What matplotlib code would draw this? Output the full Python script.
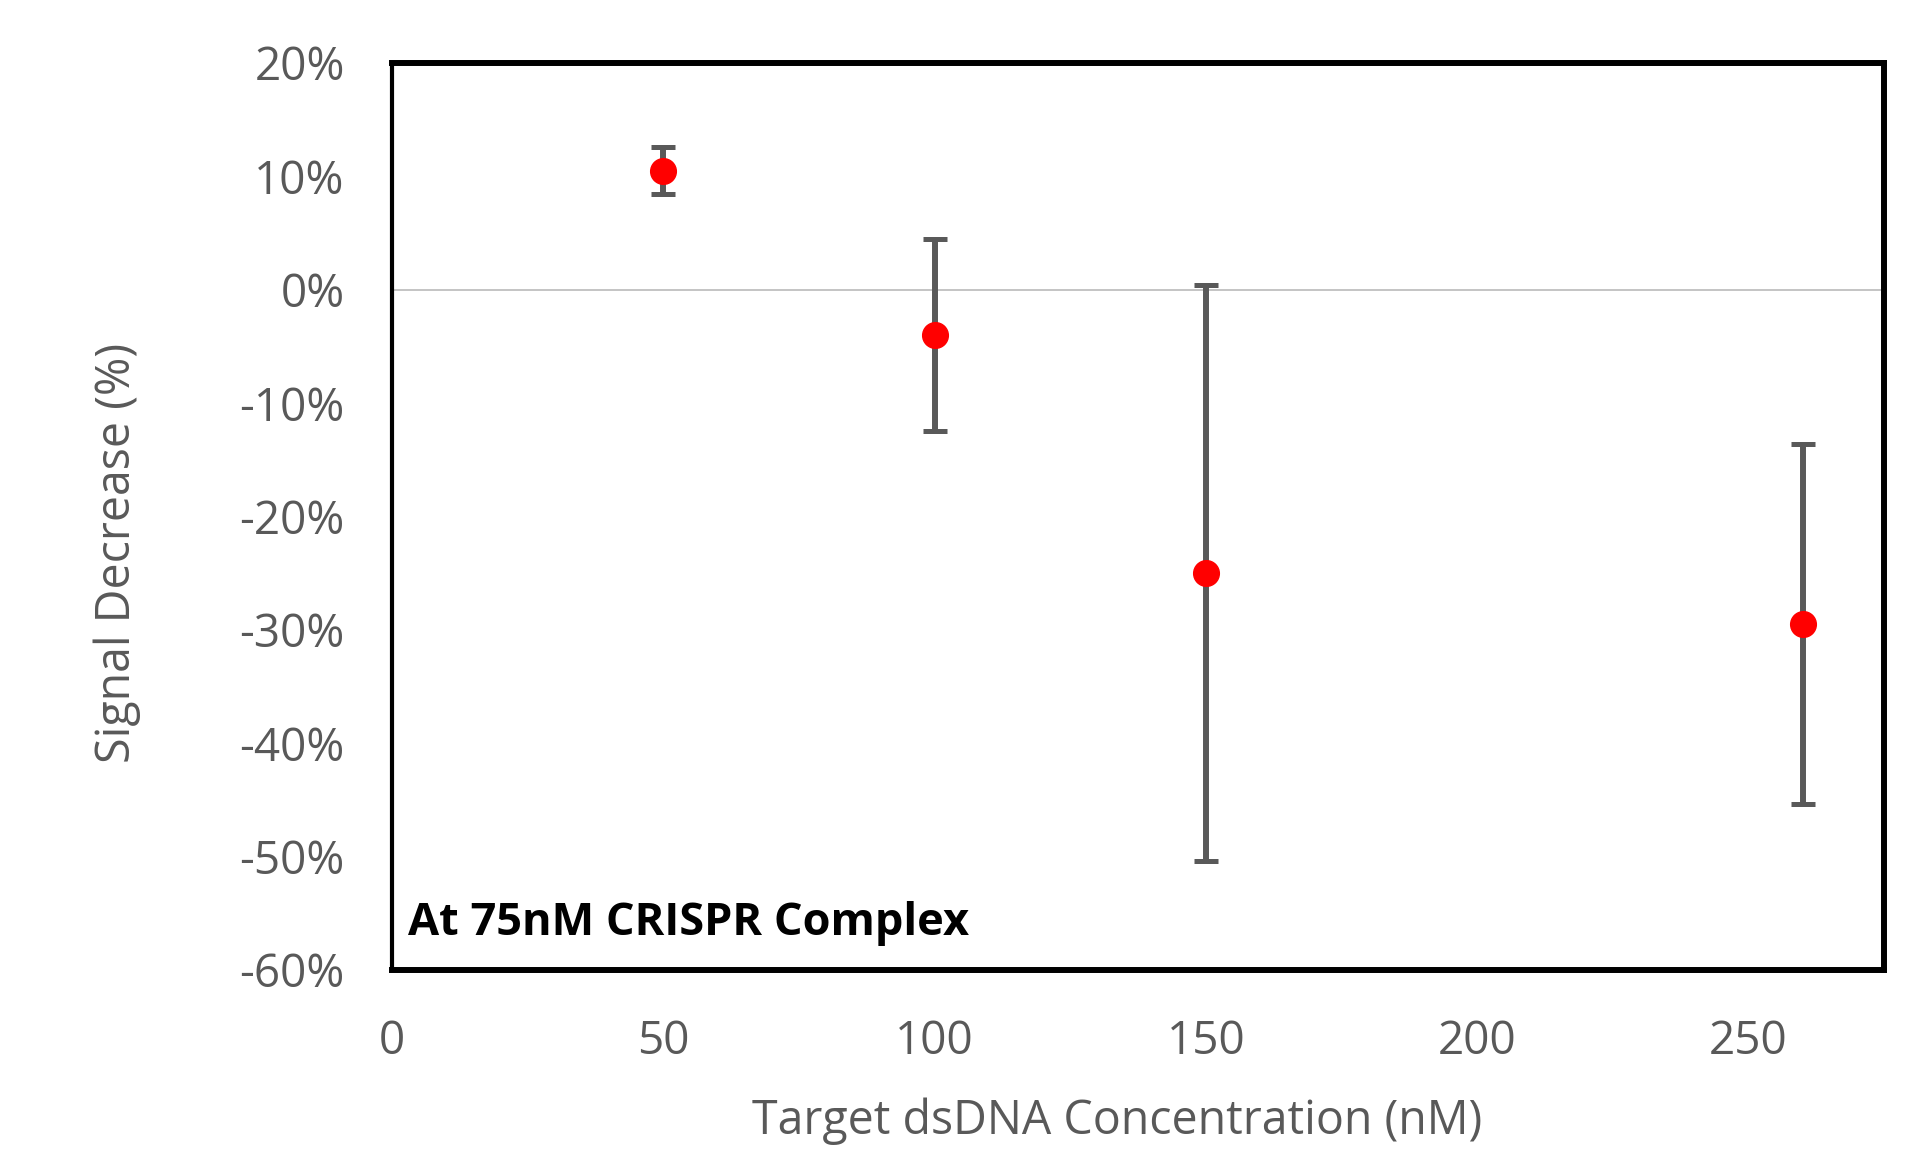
import numpy as np
import matplotlib.pyplot as plt
from matplotlib.ticker import FuncFormatter

plt.rcParams["font.family"] = ["Open Sans", "DejaVu Sans"]

# Datos: concentración de dsDNA objetivo (nM) vs disminución de señal (%)
concentracion = [50, 100, 150, 260]
senal = [10.5, -4.0, -25.0, -29.5]
error = [2.1, 8.5, 25.4, 15.9]

gris = "#595959"

fig = plt.figure(figsize=(19.28, 11.49), dpi=100)
ax = fig.add_axes([0.2033, 0.1558, 0.7739, 0.7894])

ax.axhline(0, color="#BFBFBF", linewidth=1.3, zorder=1)
ax.errorbar(concentracion, senal, yerr=error, fmt="o", color="red",
            markersize=18.5, ecolor=gris, elinewidth=4.3, capsize=8.5,
            capthick=3.6, zorder=3)

ax.set_xlim(0, 275)
ax.set_ylim(-60, 20)
ax.set_xticks(np.arange(0, 251, 50))
ax.set_yticks(np.arange(-60, 21, 10))
# guion normal en lugar del signo menos tipográfico
ax.yaxis.set_major_formatter(FuncFormatter(lambda v, pos: f"{v:.0f}%"))

ax.tick_params(length=0, labelsize=33, labelcolor=gris)
ax.tick_params(axis="y", pad=34)
ax.tick_params(axis="x", pad=35)

for lado in ["top", "right", "bottom"]:
    ax.spines[lado].set_linewidth(4.3)
    ax.spines[lado].set_color("black")
ax.spines["left"].set_linewidth(3)
ax.spines["left"].set_color("black")

ax.set_xlabel("Target dsDNA Concentration (nM)", fontsize=33.5, color=gris)
ax.set_ylabel("Signal Decrease (%)", fontsize=33.5, color=gris)
ax.xaxis.set_label_coords(0.486, -0.141)
ax.yaxis.set_label_coords(-0.168, 0.46)

ax.text(0.011, 0.026, "At 75nM CRISPR Complex", transform=ax.transAxes,
        fontsize=32.5, fontweight="bold", color="black", va="bottom", ha="left")

plt.savefig("out.png", dpi=100)
